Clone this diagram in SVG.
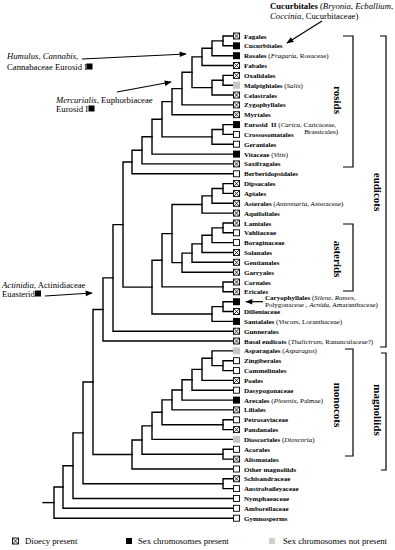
<svg xmlns="http://www.w3.org/2000/svg" width="395" height="550" viewBox="0 0 395 550">
<style>
.lb{font-family:"Liberation Serif",serif;font-size:7px;font-weight:bold;fill:#000}
.n{font-weight:normal}
.i{font-weight:normal;font-style:italic}
.an{font-family:"Liberation Serif",serif;font-size:8.7px;fill:#000}
.b{font-weight:bold}
.it{font-style:italic}
.cl{font-family:"Liberation Serif",serif;font-size:11px;font-weight:bold;fill:#000}
.tree path{fill:none;stroke:#000;stroke-width:1.4;stroke-linecap:square}
.br{fill:none;stroke:#000;stroke-width:1.2}
.ar{fill:none;stroke:#000;stroke-width:1.2;marker-end:url(#ah)}
</style>
<defs>
<marker id="ah" viewBox="0 0 10 10" refX="9" refY="5" markerWidth="8" markerHeight="7" orient="auto" markerUnits="userSpaceOnUse"><path d="M0 1 L10 5 L0 9 z" fill="#000"/></marker>
<g id="dio"><rect x="0.5" y="0.5" width="6" height="6" fill="#fff" stroke="#000" stroke-width="0.9"/><path d="M0.5 0.5 L6.5 6.5 M6.5 0.5 L0.5 6.5" stroke="#000" stroke-width="0.8"/></g>
<g id="emp"><rect x="0.5" y="0.5" width="6" height="6" fill="#fff" stroke="#000" stroke-width="0.9"/></g>
<g id="sex"><rect x="0" y="0" width="7" height="7" fill="#000"/></g>
<g id="gry"><rect x="0" y="0" width="7" height="7" fill="#c6c6c6"/></g>
</defs>
<rect width="395" height="550" fill="#fff"/>

<g id="connectors" class="tree">
<path d="M233 36 H223 V45.8 H233"/>
<path d="M223 40.9 H212 V55.7 H233"/>
<path d="M212 48.3 H202 V65.5 H233"/>
<path d="M233 75.4 H223 V85.2 H233"/>
<path d="M223 80.3 H212 V95 H233"/>
<path d="M202 56.9 H192 V87.65 H212"/>
<path d="M192 72.3 H182 V104.9 H233"/>
<path d="M182 88.6 H172 V114.7 H233"/>
<path d="M233 124.6 H223 V134.4 H233"/>
<path d="M223 129.5 H212 V144.2 H233"/>
<path d="M172 101.65 H162 V136.85 H212"/>
<path d="M162 119.25 H152 V154.1 H233"/>
<path d="M152 136.7 H142 V163.9 H233"/>
<path d="M142 150.3 H132 V173.8 H233"/>
<path d="M233 183.6 H223 V193.4 H233"/>
<path d="M223 188.5 H212 V203.3 H233"/>
<path d="M212 195.9 H202 V213.1 H233"/>
<path d="M233 223 H223 V232.8 H233"/>
<path d="M223 227.9 H212 V242.6 H233"/>
<path d="M212 235.25 H202 V252.5 H233"/>
<path d="M202 243.9 H192 V262.3 H233"/>
<path d="M192 253.1 H182 V272.2 H233"/>
<path d="M202 204.5 H172 V262.65 H182"/>
<path d="M233 282 H223 V291.8 H233"/>
<path d="M172 233.6 H162 V286.9 H223"/>
<path d="M233 301.7 H223 V311.5 H233"/>
<path d="M223 306.6 H212 V321.4 H233"/>
<path d="M162 260.25 H152 V314 H212"/>
<path d="M132 162.05 H123 V287.1 H152"/>
<path d="M123 224.6 H113 V331.2 H233"/>
<path d="M113 277.9 H103 V341 H233"/>
<path d="M233 360.7 H223 V370.6 H233"/>
<path d="M233 350.9 H212 V365.65 H223"/>
<path d="M212 358.3 H202 V380.4 H233"/>
<path d="M202 369.35 H192 V390.2 H233"/>
<path d="M192 379.8 H182 V400.1 H233"/>
<path d="M182 389.95 H172 V409.9 H233"/>
<path d="M233 419.8 H223 V429.6 H233"/>
<path d="M172 399.9 H162 V424.7 H223"/>
<path d="M162 412.3 H152 V439.4 H233"/>
<path d="M233 449.3 H223 V459.1 H233"/>
<path d="M152 425.85 H142 V454.2 H223"/>
<path d="M142 440 H132 V469 H233"/>
<path d="M103 309.45 H93 V454.5 H132"/>
<path d="M233 478.8 H223 V488.6 H233"/>
<path d="M93 382 H83 V483.7 H223"/>
<path d="M83 432.85 H73 V498.5 H233"/>
<path d="M73 465.7 H63 V508.3 H233"/>
<path d="M63 487 H54 V518.2 H233"/>
<path d="M43 502.6 H54"/>
</g>

<g id="leaves">
<g id="n-fagales"><use href="#dio" x="233" y="32.5"/><text class="lb" x="244" y="38.5">Fagales</text></g>
<g id="n-cucurbitales"><use href="#sex" x="233" y="42.3"/><text class="lb" x="244" y="48.3">Cucurbitales</text></g>
<g id="n-rosales"><use href="#sex" x="233" y="52.2"/><text class="lb" x="244" y="58.2">Rosales<tspan class="n"> (</tspan><tspan class="i">Fragaria</tspan><tspan class="n">, Rosaceae)</tspan></text></g>
<g id="n-fabales"><use href="#dio" x="233" y="62"/><text class="lb" x="244" y="68">Fabales</text></g>
<g id="n-oxalidales"><use href="#dio" x="233" y="71.9"/><text class="lb" x="244" y="77.9">Oxalidales</text></g>
<g id="n-malpighiales"><use href="#gry" x="233" y="81.7"/><text class="lb" x="244" y="87.7">Malpighiales<tspan class="n"> (</tspan><tspan class="i">Salix</tspan><tspan class="n">)</tspan></text></g>
<g id="n-celastrales"><use href="#dio" x="233" y="91.5"/><text class="lb" x="244" y="97.5">Celastrales</text></g>
<g id="n-zygophyllales"><use href="#dio" x="233" y="101.4"/><text class="lb" x="244" y="107.4">Zygophyllales</text></g>
<g id="n-myrtales"><use href="#dio" x="233" y="111.2"/><text class="lb" x="244" y="117.2">Myrtales</text></g>
<g id="n-eurosid2"><use href="#sex" x="233" y="121.1"/><text class="lb" x="244" y="127.1" xml:space="preserve">Eurosid  II<tspan class="n"> (</tspan><tspan class="i">Carica</tspan><tspan class="n">, Caricaceae,</tspan></text><text class="lb" x="338" y="134.3" text-anchor="end"><tspan class="n">Brassicales)</tspan></text></g>
<g id="n-crossosomatales"><use href="#emp" x="233" y="130.9"/><text class="lb" x="244" y="136.9">Crossosomatales</text></g>
<g id="n-geraniales"><use href="#emp" x="233" y="140.7"/><text class="lb" x="244" y="146.7">Geraniales</text></g>
<g id="n-vitaceae"><use href="#sex" x="233" y="150.6"/><text class="lb" x="244" y="156.6">Vitaceae<tspan class="n"> (</tspan><tspan class="i">Vitis</tspan><tspan class="n">)</tspan></text></g>
<g id="n-saxifragales"><use href="#dio" x="233" y="160.4"/><text class="lb" x="244" y="166.4">Saxifragales</text></g>
<g id="n-berberidopsidales"><use href="#emp" x="233" y="170.3"/><text class="lb" x="244" y="176.3">Berberidopsidales</text></g>
<g id="n-dipsacales"><use href="#dio" x="233" y="180.1"/><text class="lb" x="244" y="186.1">Dipsacales</text></g>
<g id="n-apiales"><use href="#dio" x="233" y="189.9"/><text class="lb" x="244" y="195.9">Apiales</text></g>
<g id="n-asterales"><use href="#dio" x="233" y="199.8"/><text class="lb" x="244" y="205.8">Asterales<tspan class="n"> (</tspan><tspan class="i">Antennaria</tspan><tspan class="n">, Asteraceae)</tspan></text></g>
<g id="n-aquifoliales"><use href="#dio" x="233" y="209.6"/><text class="lb" x="244" y="215.6">Aquifoliales</text></g>
<g id="n-lamiales"><use href="#dio" x="233" y="219.5"/><text class="lb" x="244" y="225.5">Lamiales</text></g>
<g id="n-vahliaceae"><use href="#emp" x="233" y="229.3"/><text class="lb" x="244" y="235.3">Vahliaceae</text></g>
<g id="n-boraginaceae"><use href="#emp" x="233" y="239.1"/><text class="lb" x="244" y="245.1">Boraginaceae</text></g>
<g id="n-solanales"><use href="#dio" x="233" y="249"/><text class="lb" x="244" y="255">Solanales</text></g>
<g id="n-gentianales"><use href="#dio" x="233" y="258.8"/><text class="lb" x="244" y="264.8">Gentianales</text></g>
<g id="n-garryales"><use href="#dio" x="233" y="268.7"/><text class="lb" x="244" y="274.7">Garryales</text></g>
<g id="n-cornales"><use href="#dio" x="233" y="278.5"/><text class="lb" x="244" y="284.5">Cornales</text></g>
<g id="n-ericales"><use href="#dio" x="233" y="288.3"/><text class="lb" x="244" y="294.3">Ericales</text></g>
<g id="n-caryophyllales"><use href="#sex" x="233" y="298.2"/><text class="lb" x="265" y="299.6">Caryophyllales<tspan class="n"> (</tspan><tspan class="i">Silene</tspan><tspan class="n">, </tspan><tspan class="i">Rumex</tspan><tspan class="n">,</tspan></text><text class="lb" x="265" y="306.8"><tspan class="n">Polygonaceae , </tspan><tspan class="i">Acnida</tspan><tspan class="n">, Amaranthaceae)</tspan></text></g>
<g id="n-dilleniaceae"><use href="#dio" x="233" y="308"/><text class="lb" x="244" y="314">Dilleniaceae</text></g>
<g id="n-santalales"><use href="#sex" x="233" y="317.9"/><text class="lb" x="244" y="323.9">Santalales<tspan class="n"> (</tspan><tspan class="i">Viscum</tspan><tspan class="n">, Loranthaceae)</tspan></text></g>
<g id="n-gunnerales"><use href="#dio" x="233" y="327.7"/><text class="lb" x="244" y="333.7">Gunnerales</text></g>
<g id="n-basal"><use href="#dio" x="233" y="337.5"/><text class="lb" x="244" y="343.5">Basal eudicots<tspan class="n"> (</tspan><tspan class="i">Thalictrum</tspan><tspan class="n">, Ranunculaceae?)</tspan></text></g>
<g id="n-asparagales"><use href="#gry" x="233" y="347.4"/><text class="lb" x="244" y="353.4">Asparagales<tspan class="n"> (</tspan><tspan class="i">Asparagus</tspan><tspan class="n">)</tspan></text></g>
<g id="n-zingiberales"><use href="#emp" x="233" y="357.2"/><text class="lb" x="244" y="363.2">Zingiberales</text></g>
<g id="n-commelinales"><use href="#emp" x="233" y="367.1"/><text class="lb" x="244" y="373.1">Commelinales</text></g>
<g id="n-poales"><use href="#dio" x="233" y="376.9"/><text class="lb" x="244" y="382.9">Poales</text></g>
<g id="n-dasypogonaceae"><use href="#emp" x="233" y="386.7"/><text class="lb" x="244" y="392.7">Dasypogonaceae</text></g>
<g id="n-arecales"><use href="#sex" x="233" y="396.6"/><text class="lb" x="244" y="402.6">Arecales<tspan class="n"> (</tspan><tspan class="i">Phoenix</tspan><tspan class="n">, Palmae)</tspan></text></g>
<g id="n-liliales"><use href="#dio" x="233" y="406.4"/><text class="lb" x="244" y="412.4">Liliales</text></g>
<g id="n-petrosaviaceae"><use href="#emp" x="233" y="416.3"/><text class="lb" x="244" y="422.3">Petrosaviaceae</text></g>
<g id="n-pandanales"><use href="#dio" x="233" y="426.1"/><text class="lb" x="244" y="432.1">Pandanales</text></g>
<g id="n-dioscoriales"><use href="#gry" x="233" y="435.9"/><text class="lb" x="244" y="441.9">Dioscoriales<tspan class="n"> (</tspan><tspan class="i">Dioscoria</tspan><tspan class="n">)</tspan></text></g>
<g id="n-acorales"><use href="#emp" x="233" y="445.8"/><text class="lb" x="244" y="451.8">Acorales</text></g>
<g id="n-alismatales"><use href="#dio" x="233" y="455.6"/><text class="lb" x="244" y="461.6">Alismatales</text></g>
<g id="n-othermag"><use href="#emp" x="233" y="465.5"/><text class="lb" x="244" y="471.5">Other magnoliids</text></g>
<g id="n-schisandraceae"><use href="#dio" x="233" y="475.3"/><text class="lb" x="244" y="481.3">Schisandraceae</text></g>
<g id="n-austrobaileyaceae"><use href="#emp" x="233" y="485.1"/><text class="lb" x="244" y="491.1">Austrobaileyaceae</text></g>
<g id="n-nymphaeaceae"><use href="#emp" x="233" y="495"/><text class="lb" x="244" y="501">Nymphaeaceae</text></g>
<g id="n-amborellaceae"><use href="#emp" x="233" y="504.8"/><text class="lb" x="244" y="510.8">Amborellaceae</text></g>
<g id="n-gymnosperms"><use href="#emp" x="233" y="514.7"/><text class="lb" x="244" y="520.7">Gymnosperms</text></g>
</g>

<g id="clade-brackets">
<path class="br" d="M343 36 H353 V167 H343"/>
<text class="cl" transform="translate(334.2 100) rotate(90)" text-anchor="middle">rosids</text>
<path class="br" d="M380 36 H386 V347 H380"/>
<text class="cl" transform="translate(374.2 192) rotate(90)" text-anchor="middle">eudicots</text>
<path class="br" d="M343 224 H353 V291 H343"/>
<text class="cl" transform="translate(334.2 259) rotate(90)" text-anchor="middle">asterids</text>
<path class="br" d="M345 349 H353 V456 H345"/>
<text class="cl" transform="translate(334.2 405) rotate(90)" text-anchor="middle">monocots</text>
<path class="br" d="M381 353 H386 V470 H381"/>
<text class="cl" transform="translate(374.2 410) rotate(90)" text-anchor="middle">magnoliids</text>
</g>

<g id="annotations">
<g id="a-cucurbitales"><text class="an" x="270" y="8.5"><tspan class="b">Cucurbitales</tspan> (<tspan class="it">Bryonia</tspan>, <tspan class="it">Ecballium</tspan>,</text><text class="an" x="270" y="18.5"><tspan class="it">Coccinia</tspan>, Cucurbitaceae)</text><path class="ar" d="M322 21 L287 43"/></g>
<g id="a-humulus"><text class="an" x="7" y="59"><tspan class="it">Humulus</tspan>, <tspan class="it">Cannabis</tspan>,</text><text class="an" x="7" y="70">Cannabaceae Eurosid I</text><rect x="86.5" y="63.5" width="6" height="6" fill="#000"/><path class="ar" d="M82 59 L186 54"/></g>
<g id="a-mercurialis"><text class="an" x="56" y="103"><tspan class="it">Mercurialis</tspan>, Euphorbiaceae</text><text class="an" x="56" y="112">Eurosid I</text><rect x="88.5" y="105.5" width="6" height="6" fill="#000"/><path class="ar" d="M117 92 L171 82"/></g>
<g id="a-actinidia"><text class="an" x="2" y="288"><tspan class="it">Actinidia</tspan>, Actinidiaceae</text><text class="an" x="2" y="297">Euasterid</text><rect x="35" y="290.5" width="6" height="6" fill="#000"/><path class="ar" d="M45 296 L92 293"/></g>
<path class="ar" d="M263 301.7 L246 301.7"/>
</g>

<g id="legend">
<use href="#dio" x="12" y="537.5"/><text class="an" x="25" y="544">Dioecy present</text>
<rect x="126" y="538" width="6" height="6" fill="#000"/><text class="an" x="138" y="544">Sex chromosomes present</text>
<rect x="269" y="538" width="6" height="6" fill="#d0d0d0"/><text class="an" x="283" y="544">Sex chromosomes not present</text>
</g>
</svg>
